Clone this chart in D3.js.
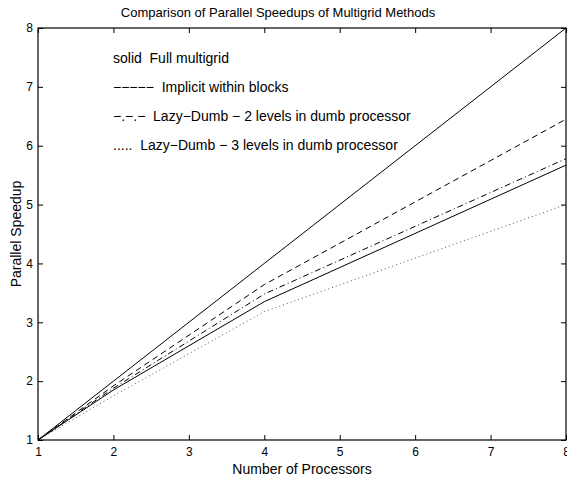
<!DOCTYPE html>
<html>
<head>
<meta charset="utf-8">
<script src="https://cdn.jsdelivr.net/npm/d3@7"></script>
<style>
  body { margin: 0; background: #fff; }
  svg { display: block; font-family: "Liberation Sans", Arial, sans-serif; }
  .pre { white-space: pre; }
</style>
</head>
<body>
<svg id="chart" width="567" height="478"></svg>
<script>
// data
const procs = [1, 2, 4, 8];
const ideal = [1, 2, 4, 8];
const fullMultigrid = [1, 1.85, 3.35, 5.67];
const implicitBlocks = [1, 1.92, 3.64, 6.45];
const lazyDumb2 = [1, 1.88, 3.48, 5.78];
const lazyDumb3 = [1, 1.75, 3.18, 5.0];
const xTicks = [1, 2, 3, 4, 5, 6, 7, 8];
const yTicks = [1, 2, 3, 4, 5, 6, 7, 8];
const legendLines = [
  "solid  Full multigrid",
  "\u2212\u2212\u2212\u2212\u2212  Implicit within blocks",
  "\u2212.\u2212.\u2212  Lazy\u2212Dumb \u2212 2 levels in dumb processor",
  ".....  Lazy\u2212Dumb \u2212 3 levels in dumb processor"
];

const margin = {top: 28, right: 1, bottom: 38, left: 38},
      width = 567 - margin.left - margin.right,
      height = 478 - margin.top - margin.bottom;

const svg = d3.select("#chart");
const g = svg.append("g").attr("transform", `translate(${margin.left},${margin.top})`);

const x = d3.scaleLinear().domain([1, 8]).range([0, width]);
const y = d3.scaleLinear().domain([1, 8]).range([height, 0]);

// series
const series = [
  {vals: ideal, dash: null, color: "#000"},
  {vals: fullMultigrid, dash: null, color: "#000"},
  {vals: implicitBlocks, dash: "6,4", color: "#000"},
  {vals: lazyDumb2, dash: "6,3,1,3", color: "#000"},
  {vals: lazyDumb3, dash: "1,3", color: "#555"}
];
const line = d3.line().x(d => x(d[0])).y(d => y(d[1]));
series.forEach(s => {
  g.append("path")
    .datum(procs.map((p, i) => [p, s.vals[i]]))
    .attr("fill", "none")
    .attr("stroke", s.color)
    .attr("stroke-width", 1)
    .attr("stroke-dasharray", s.dash)
    .attr("d", line);
});

// frame + inward ticks on all sides
g.append("rect")
  .attr("width", width).attr("height", height)
  .attr("fill", "none").attr("stroke", "#000").attr("stroke-width", 1.2);

const tk = 5;
const xb = g.append("g").attr("transform", `translate(0,${height})`)
  .call(d3.axisBottom(x).tickValues(xTicks).tickSize(-tk).tickPadding(7).tickFormat(d3.format("d")));
const xt = g.append("g")
  .call(d3.axisTop(x).tickValues(xTicks).tickSize(-tk).tickFormat(""));
const yl = g.append("g")
  .call(d3.axisLeft(y).tickValues(yTicks).tickSize(-tk).tickPadding(5).tickFormat(d3.format("d")));
const yr = g.append("g").attr("transform", `translate(${width},0)`)
  .call(d3.axisRight(y).tickValues(yTicks).tickSize(-tk).tickFormat(""));
[xb, xt, yl, yr].forEach(a => {
  a.select(".domain").remove();
  a.selectAll("text").attr("font-size", 12).attr("font-family", "Liberation Sans, Arial, sans-serif").attr("fill", "#000");
});

// legend text
legendLines.forEach((t, i) => {
  svg.append("text")
    .attr("class", "pre")
    .attr("x", 113)
    .attr("y", 63 + i * 29)
    .attr("font-size", 14)
    .text(t);
});

// titles
svg.append("text")
  .attr("x", 278)
  .attr("y", 17)
  .attr("text-anchor", "middle")
  .attr("font-size", 13)
  .text("Comparison of Parallel Speedups of Multigrid Methods");
svg.append("text")
  .attr("x", 302)
  .attr("y", 474)
  .attr("text-anchor", "middle")
  .attr("font-size", 14)
  .text("Number of Processors");
svg.append("text")
  .attr("transform", `translate(21,${margin.top + height / 2}) rotate(-90)`)
  .attr("text-anchor", "middle")
  .attr("font-size", 14)
  .text("Parallel Speedup");
</script>
</body>
</html>
